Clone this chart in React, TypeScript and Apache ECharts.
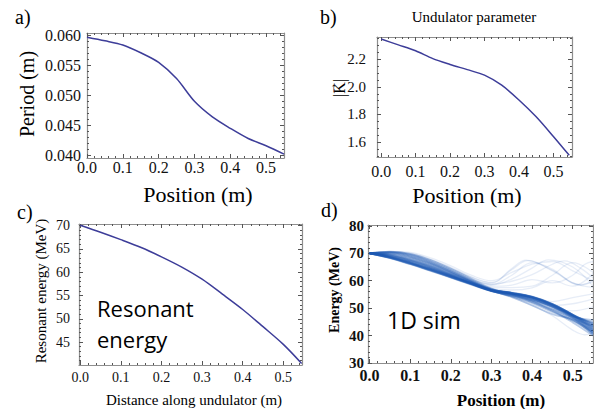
import React, { useEffect, useRef } from "react";
import * as echarts from "echarts";

// ---------- data ----------
// a) undulator period vs position
const periodX = [0, 0.05, 0.1, 0.15, 0.2, 0.25, 0.3, 0.35, 0.4, 0.45, 0.5, 0.55];
const periodM = [0.0597, 0.0591, 0.0584, 0.0571, 0.0555, 0.0528, 0.049, 0.0464, 0.0445, 0.0428, 0.0416, 0.0402];
const periodTicks = [0.04, 0.045, 0.05, 0.055, 0.06];

// b) undulator parameter |K|
const kX = [0, 0.05, 0.1, 0.15, 0.2, 0.25, 0.3, 0.35, 0.4, 0.45, 0.5, 0.546];
const kVals = [2.347, 2.305, 2.262, 2.205, 2.163, 2.125, 2.085, 2.012, 1.905, 1.783, 1.64, 1.503];
const kTicks = [1.6, 1.8, 2.0, 2.2];

// c) resonant energy
const resX = [0, 0.05, 0.1, 0.15, 0.2, 0.25, 0.3, 0.35, 0.4, 0.45, 0.5, 0.545];
const resE = [70.1, 68.6, 67.0, 65.3, 63.3, 61.1, 58.5, 55.3, 52.0, 48.3, 44.5, 40.4];
const resTicks = [45, 50, 55, 60, 65, 70];

// d) 1D simulation trajectories
const simX = [0, 0.05, 0.1, 0.15, 0.2, 0.25, 0.3, 0.35, 0.4, 0.45, 0.5, 0.55];
const mainTracks = [
  [70, 68.2, 66.0, 63.6, 61.1, 58.6, 56.2, 54.6, 52.8, 50.4, 46.3, 40.4],
  [70, 68.3, 66.2, 63.8, 61.3, 58.8, 56.3, 54.9, 53.2, 50.6, 46.6, 40.9],
  [70, 68.5, 66.4, 64.0, 61.5, 58.9, 56.4, 55.1, 53.5, 50.8, 46.9, 41.4],
  [70, 68.7, 66.7, 64.3, 61.7, 59.0, 56.4, 55.2, 53.7, 51.0, 47.1, 41.9],
  [70, 68.9, 67.0, 64.6, 61.9, 59.1, 56.5, 55.3, 53.9, 51.2, 47.3, 42.4],
  [70, 69.1, 67.3, 64.9, 62.1, 59.2, 56.5, 55.4, 54.0, 51.4, 47.5, 42.9],
  [70, 69.4, 67.7, 65.3, 62.4, 59.4, 56.6, 55.5, 54.1, 51.5, 47.6, 43.4],
  [70, 69.7, 68.2, 65.8, 62.8, 59.6, 56.7, 55.6, 54.2, 51.6, 47.7, 43.9],
  [70, 70.1, 68.8, 66.4, 63.3, 59.9, 56.8, 55.6, 54.0, 51.3, 47.5, 44.4],
  [70, 70.4, 69.4, 67.0, 63.8, 60.3, 56.9, 55.4, 53.5, 50.6, 47.2, 44.9],
  [70, 70.6, 69.8, 67.5, 64.3, 60.7, 57.1, 55.0, 52.6, 49.5, 46.8, 45.6],
  [70, 68.4, 66.3, 63.9, 61.4, 58.8, 56.3, 54.3, 51.8, 48.6, 45.6, 42.0],
  [70, 68.6, 66.5, 64.1, 61.6, 59.0, 56.4, 54.0, 51.0, 47.8, 46.0, 43.5],
  [70, 68.3, 66.1, 63.7, 61.2, 58.7, 56.2, 54.4, 52.2, 49.0, 44.8, 40.0],
  [70, 68.8, 66.8, 64.4, 61.8, 59.0, 56.4, 55.0, 53.3, 50.5, 46.7, 41.2],
  [70, 69.0, 67.1, 64.7, 62.0, 59.1, 56.5, 55.2, 53.8, 51.1, 47.2, 42.2],
  [70, 69.2, 67.5, 65.1, 62.2, 59.3, 56.6, 55.4, 54.0, 51.3, 47.4, 42.7],
  [70, 69.5, 67.9, 65.5, 62.6, 59.5, 56.6, 55.5, 54.1, 51.5, 47.6, 43.2],
  [70, 69.9, 68.5, 66.1, 63.0, 59.7, 56.7, 55.6, 54.1, 51.4, 47.6, 44.0],
  [70, 70.3, 69.1, 66.7, 63.5, 60.0, 56.8, 55.5, 53.8, 50.9, 47.3, 44.6],
  [70, 68.4, 66.2, 63.8, 61.3, 58.7, 56.2, 54.7, 52.9, 50.0, 45.9, 40.6],
  [70, 68.6, 66.6, 64.2, 61.6, 58.9, 56.4, 54.8, 52.4, 49.2, 45.4, 41.2],
];
const strayTracks: number[][][] = [
  [[0, 70], [0.05, 70.5], [0.1, 69.6], [0.15, 67.2], [0.2, 64.2], [0.25, 60.8], [0.3, 58.6], [0.35, 62.0], [0.4, 66.6], [0.45, 64.2], [0.5, 59.2], [0.55, 57.6]],
  [[0, 70], [0.05, 70.6], [0.1, 70.0], [0.15, 67.8], [0.2, 64.8], [0.25, 61.4], [0.3, 59.4], [0.35, 64.4], [0.385, 67.5], [0.45, 63.6], [0.52, 58.4], [0.55, 60.2]],
  [[0, 70], [0.05, 70.7], [0.1, 70.3], [0.15, 68.3], [0.2, 65.4], [0.25, 62.0], [0.3, 60.0], [0.35, 63.0], [0.4, 66.0], [0.45, 67.0], [0.5, 63.6], [0.55, 60.0]],
  [[0, 70], [0.05, 70.4], [0.1, 69.5], [0.15, 67.0], [0.2, 63.8], [0.25, 60.3], [0.3, 58.8], [0.35, 59.8], [0.4, 62.2], [0.45, 66.0], [0.48, 67.2], [0.52, 64.5], [0.55, 61.0]],
  [[0, 70], [0.05, 70.3], [0.1, 69.2], [0.15, 66.7], [0.2, 63.5], [0.25, 60.0], [0.3, 58.0], [0.35, 58.4], [0.4, 60.4], [0.45, 59.2], [0.5, 62.0], [0.53, 66.0], [0.55, 67.0]],
  [[0, 70], [0.05, 70.2], [0.1, 69.0], [0.15, 66.4], [0.2, 63.2], [0.25, 59.7], [0.3, 57.6], [0.35, 57.5], [0.4, 58.0], [0.45, 62.0], [0.5, 66.6], [0.55, 63.0]],
  [[0, 70], [0.05, 70.1], [0.1, 68.8], [0.15, 66.2], [0.2, 63.0], [0.25, 59.5], [0.3, 57.2], [0.35, 56.6], [0.4, 57.4], [0.45, 60.0], [0.5, 58.0], [0.55, 62.6]],
  [[0, 70], [0.05, 70.5], [0.1, 69.7], [0.15, 67.4], [0.2, 64.4], [0.25, 61.0], [0.3, 58.4], [0.35, 60.6], [0.4, 64.6], [0.44, 67.6], [0.5, 65.0], [0.55, 58.0]],
  [[0, 70], [0.05, 70.6], [0.1, 69.9], [0.15, 67.7], [0.2, 64.7], [0.25, 61.3], [0.3, 59.2], [0.35, 64.0], [0.39, 67.3], [0.45, 63.8], [0.52, 58.6], [0.55, 59.6]],
  [[0, 70], [0.05, 69.0], [0.1, 67.2], [0.15, 64.8], [0.2, 62.0], [0.25, 59.2], [0.3, 56.6], [0.35, 55.8], [0.4, 54.4], [0.45, 52.4], [0.5, 53.8], [0.55, 55.2]],
  [[0, 70], [0.05, 69.2], [0.1, 67.5], [0.15, 65.1], [0.2, 62.3], [0.25, 59.4], [0.3, 56.7], [0.35, 55.4], [0.4, 53.6], [0.45, 51.0], [0.5, 51.6], [0.55, 53.4]],
  [[0, 70], [0.05, 68.8], [0.1, 66.8], [0.15, 64.4], [0.2, 61.8], [0.25, 59.0], [0.3, 56.3], [0.35, 54.0], [0.4, 51.0], [0.45, 47.2], [0.5, 42.0], [0.53, 40.3], [0.55, 41.0]],
  [[0, 70], [0.05, 69.8], [0.1, 68.4], [0.15, 66.0], [0.2, 63.0], [0.25, 59.8], [0.3, 57.0], [0.35, 55.2], [0.4, 52.8], [0.45, 49.6], [0.5, 49.0], [0.55, 50.5]],
];
const simYTicks = [30, 40, 50, 60, 70, 80];
const posTicks = [0, 0.1, 0.2, 0.3, 0.4, 0.5];

// ---------- style ----------
const SERIF = "Liberation Serif";
const SANS = "Open Sans";
const FRAME = "#8e8e8e";
const TICK = "#555";
const CURVE = "#3d3d99";

function minorTicks(min: number, max: number, step: number, majors: number[]) {
  const out: number[] = [];
  const start = Math.ceil(min / step - 1e-9);
  const end = Math.floor(max / step + 1e-9);
  for (let i = start; i <= end; i++) {
    const v = +(i * step).toFixed(6);
    if (!majors.some((m) => Math.abs(m - v) < step / 10)) out.push(v);
  }
  return out;
}

type Panel = {
  grid: { left: number; top: number; width: number; height: number };
  x: [number, number];
  y: [number, number];
  xMajor: number[];
  xStep: number;
  yMajor: number[];
  yStep: number;
  xDec: number;
  yDec: number;
  xFont: number;
  yFont: number;
  bold?: boolean;
  xMargin: number;
  yMargin: number;
};

const panels: Panel[] = [
  { grid: { left: 87, top: 33, width: 197, height: 125 }, x: [0, 0.55], y: [0.03955, 0.0604], xMajor: posTicks, xStep: 0.02, yMajor: periodTicks, yStep: 0.001, xDec: 1, yDec: 3, xFont: 16, yFont: 16, xMargin: 1, yMargin: 6 },
  { grid: { left: 377, top: 37, width: 195, height: 120 }, x: [-0.012, 0.554], y: [1.491, 2.362], xMajor: posTicks, xStep: 0.02, yMajor: kTicks, yStep: 0.05, xDec: 1, yDec: 1, xFont: 16, yFont: 15, xMargin: 6, yMargin: 11 },
  { grid: { left: 79, top: 224, width: 223, height: 141 }, x: [-0.003, 0.546], y: [40.07, 70.36], xMajor: posTicks, xStep: 0.02, yMajor: resTicks, yStep: 1, xDec: 1, yDec: 0, xFont: 14, yFont: 14, xMargin: 5, yMargin: 9 },
  { grid: { left: 368, top: 225, width: 225, height: 138 }, x: [-0.004, 0.55], y: [30, 80.3], xMajor: posTicks, xStep: 0.02, yMajor: simYTicks, yStep: 2, xDec: 1, yDec: 0, xFont: 16, yFont: 15, bold: true, xMargin: 4, yMargin: 4 },
];

function buildAxes() {
  const xAxis: any[] = [];
  const yAxis: any[] = [];
  const mainX: number[] = [];
  const mainY: number[] = [];
  panels.forEach((p, gi) => {
    const label = (dec: number, margin: number, size: number) => ({
      show: true,
      margin,
      fontSize: size,
      fontFamily: SERIF,
      fontWeight: p.bold ? "bold" : "normal",
      color: "#111",
      formatter: (v: number) => v.toFixed(dec),
    });
    const xMin = minorTicks(p.x[0], p.x[1], p.xStep, p.xMajor);
    const yMin = minorTicks(p.y[0], p.y[1], p.yStep, p.yMajor);
    const mk = (
      pos: string,
      range: [number, number],
      ticks: number[],
      len: number,
      line: boolean,
      lab: any
    ) => ({
      type: "value",
      gridIndex: gi,
      position: pos,
      min: range[0],
      max: range[1],
      axisLine: { show: line, onZero: false, lineStyle: { color: FRAME, width: 1.2 } },
      axisTick: { show: true, inside: true, length: len, customValues: ticks, lineStyle: { color: TICK, width: 1 } },
      axisLabel: lab ? { ...lab, customValues: ticks } : { show: false },
      splitLine: { show: false },
      minorTick: { show: false },
    });
    mainX.push(xAxis.length);
    xAxis.push(mk("bottom", p.x, p.xMajor, 4, true, label(p.xDec, p.xMargin, p.xFont)));
    xAxis.push(mk("bottom", p.x, xMin, 2, false, null));
    xAxis.push(mk("top", p.x, p.xMajor, 4, true, null));
    xAxis.push(mk("top", p.x, xMin, 2, false, null));
    mainY.push(yAxis.length);
    yAxis.push(mk("left", p.y, p.yMajor, 4, true, label(p.yDec, p.yMargin, p.yFont)));
    yAxis.push(mk("left", p.y, yMin, 2, false, null));
    yAxis.push(mk("right", p.y, p.yMajor, 4, true, null));
    yAxis.push(mk("right", p.y, yMin, 2, false, null));
  });
  return { xAxis, yAxis, mainX, mainY };
}

function txt(text: string, x: number, y: number, size: number, opts: any = {}) {
  return {
    type: "text",
    x,
    y,
    rotation: opts.rot ? Math.PI / 2 : 0,
    silent: true,
    style: {
      text,
      fontSize: size,
      fontFamily: opts.family || SERIF,
      fontWeight: opts.bold ? "bold" : "normal",
      fill: "#000",
      align: opts.align || "center",
      verticalAlign: "middle",
    },
  };
}

export default function App() {
  const ref = useRef<HTMLDivElement>(null);
  useEffect(() => {
    if (!ref.current) return;
    const chart = echarts.init(ref.current, null, { renderer: "svg" });
    const { xAxis, yAxis, mainX, mainY } = buildAxes();
    const curve = (gi: number, xs: number[], ys: number[]) => ({
      type: "line",
      xAxisIndex: mainX[gi],
      yAxisIndex: mainY[gi],
      data: xs.map((x, i) => [x, ys[i]]),
      smooth: 0.3,
      showSymbol: false,
      lineStyle: { color: CURVE, width: 1.5 },
      silent: true,
    });
    const series: any[] = [
      curve(0, periodX, periodM),
      curve(1, kX, kVals),
      curve(2, resX, resE),
    ];
    strayTracks.forEach((t) =>
      series.push({
        type: "line",
        xAxisIndex: mainX[3],
        yAxisIndex: mainY[3],
        data: t,
        smooth: 0.4,
        showSymbol: false,
        lineStyle: { color: "rgba(40,95,185,0.11)", width: 1.3 },
        silent: true,
      })
    );
    mainTracks.forEach((t) =>
      series.push({
        type: "line",
        xAxisIndex: mainX[3],
        yAxisIndex: mainY[3],
        data: simX.map((x, i) => [x, t[i]]),
        smooth: 0.4,
        showSymbol: false,
        lineStyle: { color: "rgba(30,88,178,0.3)", width: 1.8 },
        silent: true,
      })
    );
    const graphic = [
      txt("a)", 15, 17, 20, { align: "left" }),
      txt("b)", 320, 17, 20, { align: "left" }),
      txt("c)", 17, 212, 20, { align: "left" }),
      txt("d)", 321, 210, 20, { align: "left" }),
      txt("Period (m)", 27, 94, 20, { rot: true }),
      txt("Position (m)", 198, 194, 22),
      txt("|K|", 339, 88, 16, { rot: true }),
      txt("\u2192", 331, 88.5, 13, { rot: true }),
      txt("Position (m)", 467, 195, 22),
      txt("Undulator parameter", 474, 17, 15),
      txt("Resonant energy (MeV)", 41, 291, 15, { rot: true }),
      txt("Distance along undulator (m)", 194, 400, 15),
      txt("Energy (MeV)", 334, 290, 14, { rot: true, bold: true }),
      txt("Position (m)", 501, 400, 17, { bold: true }),
      txt("Resonant", 97, 308, 22, { align: "left", family: SANS }),
      txt("energy", 97, 339, 22, { align: "left", family: SANS }),
      txt("1D sim", 387, 320, 23, { align: "left", family: SANS }),
    ];
    chart.setOption({
      animation: false,
      backgroundColor: "#fff",
      grid: panels.map((p) => ({ ...p.grid, containLabel: false })),
      xAxis,
      yAxis,
      series,
      graphic,
    });
    return () => chart.dispose();
  }, []);
  return (
    <div
      ref={ref}
      style={{ position: "fixed", left: 0, top: 0, width: 594, height: 409 }}
    />
  );
}
